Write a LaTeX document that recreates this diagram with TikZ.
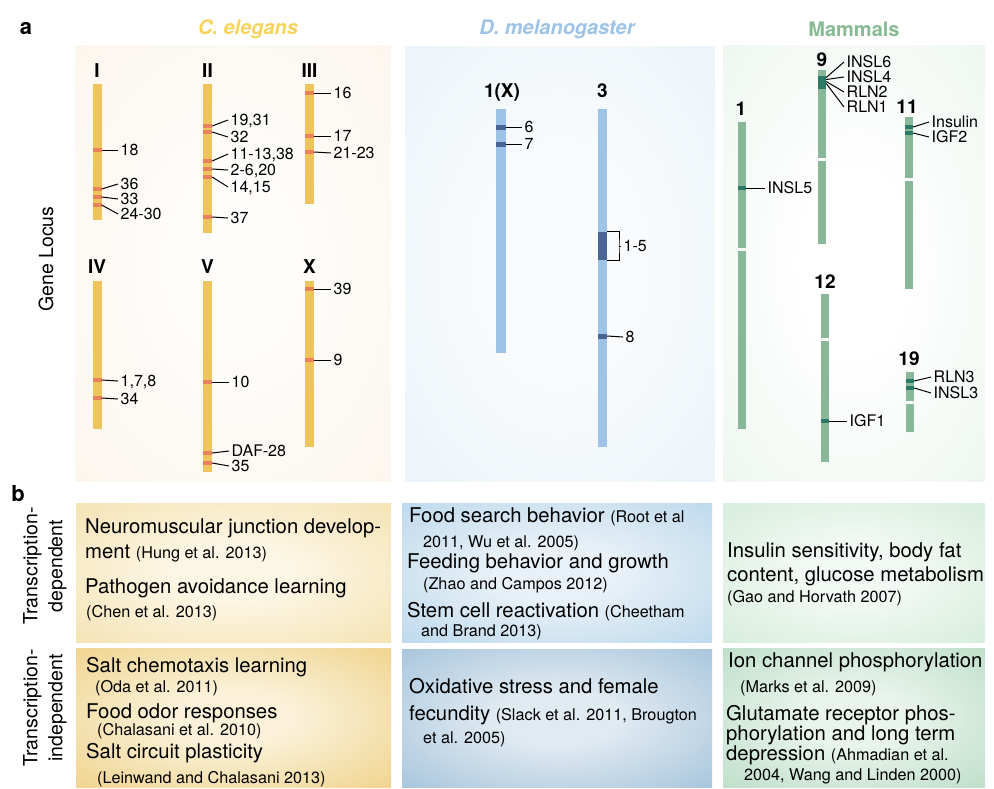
\documentclass[tikz,border=0pt]{standalone}
\usepackage{fontspec}
\setmainfont{TeX Gyre Heros}
\setsansfont{TeX Gyre Heros}
\usepackage{tikz}

% 颜色
\definecolor{celHead}{HTML}{F6D35B}
\definecolor{dmelHead}{HTML}{9DC3E6}
\definecolor{mamHead}{HTML}{88BA94}
\definecolor{celBar}{HTML}{EEC45C}
\definecolor{celBand}{HTML}{E8825A}
\definecolor{dmelBar}{HTML}{9DC3E6}
\definecolor{dmelBand}{HTML}{4A6496}
\definecolor{mamBar}{HTML}{88B898}
\definecolor{mamBand}{HTML}{2A7A66}
\colorlet{vin}{white}
\colorlet{vout}{white}

% 中间浅、边缘渐深的底色
\pgfdeclareradialshading[vin,vout]{vignette}{\pgfpointorigin}{%
  color(0bp)=(vin); color(10bp)=(vin); color(50bp)=(vout)}

\newcommand{\locussz}{\fontsize{16}{17}\selectfont}
\newcommand{\chromsz}{\fontsize{19}{21}\selectfont}
\newcommand{\bodysz}{\fontsize{20.3}{23}\selectfont}
\newcommand{\refsz}{\fontsize{16.2}{18}\selectfont}

\tikzset{
  panel/.style 2 args={
    shading=vignette,
    /utils/exec={\definecolor{vin}{HTML}{#1}\definecolor{vout}{HTML}{#2}}
  },
  cel band/.style={
    rectangle,
    fill=celBand,
    inner sep=0pt,
    minimum width=9pt,
    minimum height=4pt
  },
  dmel band/.style={
    rectangle,
    fill=dmelBand,
    inner sep=0pt,
    minimum width=10pt,
    minimum height=5pt
  },
  mam band/.style={
    rectangle,
    fill=mamBand,
    inner sep=0pt,
    minimum width=8pt,
    minimum height=4pt
  },
  locus/.style={
    anchor=west,
    inner xsep=2.5pt,
    inner ysep=0pt,
    font=\locussz,
    text height=11pt,
    text depth=0pt
  },
  chrom/.style={
    anchor=base,
    inner sep=0pt,
    font=\chromsz\bfseries
  },
  leader/.style={
    line width=1pt,
    black,
    line cap=butt
  },
  body/.style={
    anchor=base west,
    inner sep=0pt,
    font=\bodysz
  },
  cite/.style={
    anchor=base west,
    inner sep=0pt,
    font=\refsz
  },
  side label/.style={
    rotate=90,
    align=center,
    font=\fontsize{19.5}{25}\selectfont
  }
}

\begin{document}
\begin{tikzpicture}[x=1pt, y=-1pt]
  \useasboundingbox (0,0) rectangle (994,788);

  % 1. 背景底色 (a 图三块, b 图六块)
  \shade[panel={FEFDFB}{FAF2E6}] (75,45) rectangle (391,481);
  \shade[panel={FAFBFC}{E4F1F8}] (405,46) rectangle (715,481);
  \shade[panel={FFFFFF}{E6F2E9}] (723,45) rectangle (985,481);

  \shade[panel={FCF6E4}{F1D89A}] (76,503) rectangle (391,642);
  \shade[panel={FAF1D8}{EBC466}] (76,648) rectangle (391,787);
  \shade[panel={E8F1F7}{A6CCE7}] (402,503) rectangle (712,642);
  \shade[panel={E0EAF1}{88B1D2}] (402,649) rectangle (712,787);
  \shade[panel={F2F9F4}{C8E7D0}] (723,503) rectangle (985,642);
  \shade[panel={E8F4EC}{A8D3B7}] (723,648) rectangle (985,787);

  % 2. 标题与侧标签
  \node[font=\fontsize{22}{24}\selectfont\bfseries] (pa) at (26,29) {a};
  \node[font=\fontsize{22}{24}\selectfont\bfseries] (pb) at (18,494) {b};
  \node[font=\fontsize{20}{22}\selectfont\bfseries\itshape, text=celHead] (hCel) at (248,29) {C. elegans};
  \node[font=\fontsize{20}{22}\selectfont\bfseries\itshape, text=dmelHead] (hDmel) at (557,29) {D. melanogaster};
  \node[font=\fontsize{20}{22}\selectfont\bfseries, text=mamHead] (hMam) at (854,29) {Mammals};

  \node[side label] (gLocus) at (46,259) {Gene Locus};
  \node[side label] (tDep) at (45,566) {Transcription-\\dependent};
  \node[side label] (tIndep) at (45,708) {Transcription-\\independent};

  % 3. 线虫染色体 (黄色)
  % I
  \fill[celBar] (92.5,84) rectangle (101.5,220);
  \node[chrom] (nI) at (97,77) {I};
  \node[cel band] (cI18) at (97,150) {};
  \node[cel band] (cI36) at (97,189) {};
  \node[cel band] (cI33) at (97,197) {};
  \node[cel band] (cI24) at (97,205) {};
  \node[locus] (tI18) at (118,150) {18};
  \node[locus] (tI36) at (118,184) {36};
  \node[locus] (tI33) at (118,199) {33};
  \node[locus] (tI24) at (118,214) {24-30};
  \draw[leader] (cI18.east) -- (tI18.west);
  \draw[leader] (cI36.east) -- (tI36.west);
  \draw[leader] (cI33.east) -- (tI33.west);
  \draw[leader] (cI24.east) -- (tI24.west);

  % II
  \fill[celBar] (203,84) rectangle (212,233);
  \node[chrom] (nII) at (207.5,77) {II};
  \node[cel band] (cII19) at (207.5,126) {};
  \node[cel band] (cII32) at (207.5,132) {};
  \node[cel band] (cII11) at (207.5,161) {};
  \node[cel band] (cII2) at (207.5,169) {};
  \node[cel band] (cII14) at (207.5,177) {};
  \node[cel band] (cII37) at (207.5,217) {};
  \node[locus] (tII19) at (228,120) {19,31};
  \node[locus] (tII32) at (228,137) {32};
  \node[locus] (tII11) at (228,154) {11-13,38};
  \node[locus] (tII2) at (228,170) {2-6,20};
  \node[locus] (tII14) at (228,187) {14,15};
  \node[locus] (tII37) at (228,218) {37};
  \draw[leader] (cII19.east) -- (tII19.west);
  \draw[leader] (cII32.east) -- (tII32.west);
  \draw[leader] (cII11.east) -- (tII11.west);
  \draw[leader] (cII2.east) -- (tII2.west);
  \draw[leader] (cII14.east) -- (tII14.west);
  \draw[leader] (cII37.east) -- (tII37.west);

  % III
  \fill[celBar] (305,84) rectangle (314,204);
  \node[chrom] (nIII) at (309.5,77) {III};
  \node[cel band] (cIII16) at (309.5,93) {};
  \node[cel band] (cIII17) at (309.5,136) {};
  \node[cel band] (cIII21) at (309.5,152) {};
  \node[locus] (tIII16) at (331,93) {16};
  \node[locus] (tIII17) at (331,136) {17};
  \node[locus] (tIII21) at (331,153) {21-23};
  \draw[leader] (cIII16.east) -- (tIII16.west);
  \draw[leader] (cIII17.east) -- (tIII17.west);
  \draw[leader] (cIII21.east) -- (tIII21.west);

  % IV
  \fill[celBar] (92.5,281) rectangle (101.5,429);
  \node[chrom] (nIV) at (97,273) {IV};
  \node[cel band] (cIV1) at (97,380) {};
  \node[cel band] (cIV34) at (97,398) {};
  \node[locus] (tIV1) at (118,381) {1,7,8};
  \node[locus] (tIV34) at (118,399) {34};
  \draw[leader] (cIV1.east) -- (tIV1.west);
  \draw[leader] (cIV34.east) -- (tIV34.west);

  % V
  \fill[celBar] (203,281) rectangle (212,472);
  \node[chrom] (nV) at (207.5,273) {V};
  \node[cel band] (cV10) at (207.5,382) {};
  \node[cel band] (cVdaf) at (207.5,453) {};
  \node[cel band] (cV35) at (207.5,463) {};
  \node[locus] (tV10) at (229,382) {10};
  \node[locus] (tVdaf) at (229,451) {DAF-28};
  \node[locus] (tV35) at (229,466) {35};
  \draw[leader] (cV10.east) -- (tV10.west);
  \draw[leader] (cVdaf.east) -- (tVdaf.west);
  \draw[leader] (cV35.east) -- (tV35.west);

  % X
  \fill[celBar] (305,281) rectangle (314,447);
  \node[chrom] (nX) at (309.5,273) {X};
  \node[cel band] (cX39) at (309.5,289) {};
  \node[cel band] (cX9) at (309.5,360) {};
  \node[locus] (tX39) at (331,289) {39};
  \node[locus] (tX9) at (331,360) {9};
  \draw[leader] (cX39.east) -- (tX39.west);
  \draw[leader] (cX9.east) -- (tX9.west);

  % 4. 果蝇染色体 (蓝色)
  \fill[dmelBar] (496,109) rectangle (506,353);
  \node[chrom] (n1X) at (502,97) {1(X)};
  \node[dmel band] (d6) at (501,127) {};
  \node[dmel band] (d7) at (501,144) {};
  \node[locus] (t6) at (522,127) {6};
  \node[locus] (t7) at (522,144) {7};
  \draw[leader] (d6.east) -- (t6.west);
  \draw[leader] (d7.east) -- (t7.west);

  \fill[dmelBar] (598,109) rectangle (607,447);
  \node[chrom] (n3) at (602.5,97) {3};
  \node[rectangle, fill=dmelBand, inner sep=0pt, minimum width=9pt, minimum height=28pt] (d15) at (602.5,246) {};
  \node[dmel band, minimum width=9pt] (d8) at (602.5,336) {};
  \coordinate (k15) at (619,246);
  \node[locus] (t15) at (621,246) {1-5};
  \node[locus] (t8) at (623,337) {8};
  \draw[leader] (d15.north east) -| (k15) |- (d15.south east);
  \draw[leader] (k15) -- (t15.west);
  \draw[leader] (d8.east) -- (t8.west);

  % 5. 哺乳动物染色体 (绿色, 白线为着丝粒间隔)
  % 1
  \fill[mamBar] (738,122) rectangle (746,248);
  \fill[mamBar] (738,251) rectangle (746,429);
  \node[chrom] (m1) at (741,115) {1};
  \node[mam band] (bINSL5) at (742,188) {};
  \node[locus] (lINSL5) at (765,188) {INSL5};
  \draw[leader] (bINSL5.east) -- (lINSL5.west);

  % 9
  \fill[mamBar] (818,70) rectangle (826,158);
  \fill[mamBar] (818,161) rectangle (826,244);
  \node[chrom] (m9) at (822,66) {9};
  \node[rectangle, fill=mamBand, inner sep=0pt, minimum width=8pt, minimum height=13pt] (b9) at (822,82.5) {};
  \node[locus] (lINSL6) at (844,62) {INSL6};
  \node[locus] (lINSL4) at (844,77) {INSL4};
  \node[locus] (lRLN2) at (844,92) {RLN2};
  \node[locus] (lRLN1) at (844,107) {RLN1};
  \draw[leader] ([yshift=5pt]b9.east) -- (lINSL6.west);
  \draw[leader] ([yshift=3pt]b9.east) -- (lINSL4.west);
  \draw[leader] ([yshift=1pt]b9.east) -- (lRLN2.west);
  \draw[leader] ([yshift=-1pt]b9.east) -- (lRLN1.west);

  % 11
  \fill[mamBar] (905,117) rectangle (913,178);
  \fill[mamBar] (905,181) rectangle (913,289);
  \node[chrom] (m11) at (907,113) {11};
  \node[mam band] (bIns) at (909,127) {};
  \node[mam band] (bIGF2) at (909,133) {};
  \node[locus] (lIns) at (929,122) {Insulin};
  \node[locus] (lIGF2) at (929,137) {IGF2};
  \draw[leader] (bIns.east) -- (lIns.west);
  \draw[leader] (bIGF2.east) -- (lIGF2.west);

  % 12
  \fill[mamBar] (821,294) rectangle (829,338);
  \fill[mamBar] (821,341) rectangle (829,462);
  \node[chrom] (m12) at (825,288) {12};
  \node[mam band] (bIGF1) at (825,421) {};
  \node[locus] (lIGF1) at (847,421) {IGF1};
  \draw[leader] (bIGF1.east) -- (lIGF1.west);

  % 19
  \fill[mamBar] (906,372) rectangle (914,401);
  \fill[mamBar] (906,404) rectangle (914,432);
  \node[chrom] (m19) at (909,365) {19};
  \node[mam band] (bRLN3) at (910,381) {};
  \node[mam band] (bINSL3) at (910,388) {};
  \node[locus] (lRLN3) at (931,377) {RLN3};
  \node[locus] (lINSL3) at (931,393) {INSL3};
  \draw[leader] (bRLN3.east) -- (lRLN3.west);
  \draw[leader] (bINSL3.east) -- (lINSL3.west);

  % 6. b 图文字
  % 线虫
  \node[body] (celA1) at (85,533) {Neuromuscular junction develop-};
  \node[body] (celA2) at (85,558) {ment {\refsz(Hung et al. 2013)}};
  \node[body] (celA3) at (85,593) {Pathogen avoidance learning};
  \node[cite] (celA4) at (86,617) {(Chen et al. 2013)};

  \node[body] (celB1) at (86,672) {Salt chemotaxis learning};
  \node[cite] (celB2) at (95,692) {(Oda et al. 2011)};
  \node[body] (celB3) at (86,718) {Food odor responses};
  \node[cite] (celB4) at (97,735) {(Chalasani et al. 2010)};
  \node[body] (celB5) at (86,758) {Salt circuit plasticity};
  \node[cite] (celB6) at (97,783) {(Leinwand and Chalasani 2013)};

  % 果蝇
  \node[body] (dmelA1) at (409,522) {Food search behavior {\refsz(Root et al}};
  \node[cite] (dmelA2) at (423,547) {2011, Wu et al. 2005)};
  \node[body] (dmelA3) at (407,568) {Feeding behavior and growth};
  \node[cite] (dmelA4) at (423,589) {(Zhao and Campos 2012)};
  \node[body] (dmelA5) at (407,617) {Stem cell reactivation {\refsz(Cheetham}};
  \node[cite] (dmelA6) at (421,636) {and Brand 2013)};

  \node[body] (dmelB1) at (409,693) {Oxidative stress and female};
  \node[body] (dmelB2) at (409,720) {fecundity {\refsz(Slack et al. 2011, Brougton}};
  \node[cite] (dmelB3) at (423,743) {et al. 2005)};

  % 哺乳动物
  \node[body] (mamA1) at (727,557) {Insulin sensitivity, body fat};
  \node[body] (mamA2) at (727,581) {content, glucose metabolism};
  \node[cite] (mamA3) at (727,602) {(Gao and Horvath 2007)};

  \node[body] (mamB1) at (728,667) {Ion channel phosphorylation};
  \node[cite] (mamB2) at (740,692) {(Marks et al. 2009)};
  \node[body] (mamB3) at (726,720) {Glutamate receptor phos-};
  \node[body] (mamB4) at (726,740) {phorylation and long term};
  \node[body] (mamB5) at (726,760) {depression {\refsz(Ahmadian et al.}};
  \node[cite] (mamB6) at (744,780) {2004, Wang and Linden 2000)};

\end{tikzpicture}
\end{document}
